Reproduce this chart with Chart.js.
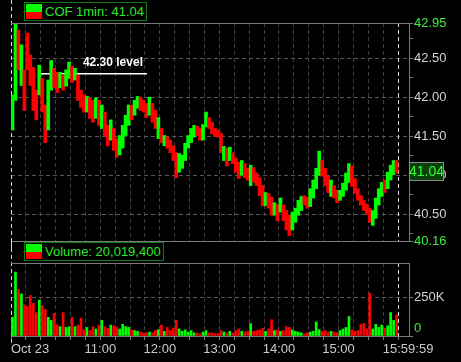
<!DOCTYPE html>
<html>
<head>
<meta charset="utf-8">
<title>COF 1min</title>
<script src="https://cdn.jsdelivr.net/npm/chart.js@4.4.0/dist/chart.umd.min.js"></script>
<style>
  body { margin: 0; background: #000; }
  #wrap { position: relative; width: 461px; height: 362px; overflow: hidden; background: #000; }
  canvas { position: absolute; left: 0; }
  #priceCanvas { top: 0; }
  #volCanvas { top: 241px; }
  .legend {
    position: absolute; left: 24px; height: 19px; box-sizing: border-box;
    border: 1px solid #127a12; color: #2ee82e; background: #000;
    font: 13px "Liberation Sans", Arial, sans-serif; line-height: 17px;
    padding-left: 20px; white-space: nowrap; z-index: 2;
  }
  .sw { position: absolute; left: 1px; top: 1px; width: 16px; }
  .sw .g { height: 8px; background: #00ff00; }
  .sw .r { height: 7px; background: #ff0000; }
</style>
</head>
<body>
<div id="wrap">
  <canvas id="priceCanvas" width="461" height="252"></canvas>
  <canvas id="volCanvas" width="461" height="121"></canvas>
  <div class="legend" style="top:2px;width:123px"><div class="sw"><div class="g"></div><div class="r"></div></div>COF 1min: 41.04</div>
  <div class="legend" style="top:242px;width:140px"><div class="sw"><div class="g"></div><div class="r"></div></div>Volume: 20,019,400</div>
</div>
<script>
'use strict';

//////// DATA ////////
// one bar = 3 minutes of the 9:30 - 16:00 session (minutes counted from 9:30)
const binMinutes = 3;
const lastPrice = 41.04;

const highs = [
  42.03, 42.95, 42.86, 42.67, 42.35, 42.82, 42.54, 42.38, 42.09, 42.41,
  42.24, 41.90, 42.22, 42.47, 42.37, 42.32, 42.32, 42.29, 42.35, 42.45,
  42.40, 42.37, 42.28, 42.09, 42.03, 42.01, 41.99, 41.96, 41.99, 41.96,
  41.90, 41.81, 41.64, 41.71, 41.60, 41.47, 41.51, 41.64, 41.77, 41.90,
  41.90, 41.96, 42.01, 42.00, 41.96, 41.92, 42.00, 41.92, 41.83, 41.74,
  41.60, 41.51, 41.49, 41.45, 41.38, 41.29, 41.28, 41.26, 41.41, 41.51,
  41.60, 41.64, 41.63, 41.60, 41.65, 41.81, 41.74, 41.68, 41.60, 41.58,
  41.54, 41.37, 41.35, 41.36, 41.29, 41.22, 41.17, 41.19, 41.15, 41.09,
  41.13, 41.10, 41.03, 40.97, 40.87, 40.78, 40.77, 40.72, 40.65, 40.63,
  40.71, 40.62, 40.55, 40.49, 40.53, 40.58, 40.68, 40.73, 40.74, 40.72,
  40.83, 40.94, 41.09, 41.31, 41.19, 41.09, 40.99, 40.94, 40.87, 40.81,
  40.81, 40.90, 41.03, 41.15, 41.12, 40.96, 40.83, 40.74, 40.68, 40.63,
  40.58, 40.55, 40.71, 40.83, 40.91, 40.94, 41.04, 41.13, 41.19, 41.19
];

const lows = [
  41.58, 41.96, 42.35, 42.15, 41.83, 42.35, 42.15, 41.83, 41.71, 42.03,
  41.81, 41.42, 41.58, 42.09, 42.12, 42.06, 42.12, 42.09, 42.14, 42.24,
  42.19, 42.22, 41.96, 41.87, 41.81, 41.81, 41.73, 41.68, 41.73, 41.64,
  41.60, 41.51, 41.38, 41.45, 41.32, 41.23, 41.26, 41.35, 41.51, 41.64,
  41.71, 41.77, 41.86, 41.83, 41.81, 41.74, 41.77, 41.68, 41.60, 41.47,
  41.42, 41.38, 41.35, 41.29, 41.19, 40.97, 41.04, 41.09, 41.19, 41.35,
  41.42, 41.49, 41.51, 41.45, 41.45, 41.62, 41.60, 41.53, 41.50, 41.49,
  41.29, 41.19, 41.12, 41.19, 41.15, 41.04, 40.96, 41.00, 40.97, 40.94,
  40.87, 40.91, 40.87, 40.74, 40.61, 40.61, 40.58, 40.49, 40.49, 40.42,
  40.53, 40.42, 40.30, 40.23, 40.30, 40.40, 40.49, 40.55, 40.62, 40.58,
  40.60, 40.71, 40.83, 41.00, 40.99, 40.87, 40.78, 40.73, 40.71, 40.65,
  40.68, 40.73, 40.81, 40.91, 40.86, 40.77, 40.68, 40.62, 40.55, 40.50,
  40.40, 40.36, 40.45, 40.62, 40.73, 40.78, 40.83, 40.94, 41.01, 41.03
];

// 1 = closed up (green), 0 = closed down (red)
const upBar = [
  1, 1, 0, 1, 0, 0, 0, 0, 0, 1,
  0, 0, 1, 1, 0, 0, 1, 0, 1, 1,
  0, 1, 0, 0, 0, 1, 0, 0, 1, 0,
  1, 0, 0, 1, 0, 0, 1, 1, 1, 1,
  0, 1, 1, 0, 0, 0, 1, 0, 0, 1,
  0, 1, 0, 0, 0, 0, 1, 1, 1, 1,
  1, 1, 0, 0, 1, 1, 0, 0, 0, 0,
  0, 1, 0, 1, 0, 0, 0, 1, 0, 0,
  1, 0, 0, 0, 0, 1, 0, 0, 1, 0,
  1, 0, 0, 0, 1, 1, 1, 1, 0, 0,
  1, 1, 1, 1, 0, 0, 0, 1, 0, 0,
  1, 1, 1, 1, 0, 0, 0, 0, 0, 0,
  0, 1, 1, 1, 1, 0, 1, 1, 1, 0
];

// thousands of shares
const volumeK = [
  120, 410, 300, 270, 200, 190, 260, 210, 150, 230,
  195, 170, 120, 100, 145, 70, 60, 150, 55, 60,
  120, 60, 70, 115, 40, 55, 35, 60, 45, 70,
  100, 60, 50, 70, 65, 55, 45, 75, 60, 55,
  40, 35, 30, 25, 20, 20, 25, 20, 35, 40,
  70, 30, 55, 35, 50, 100, 45, 30, 40, 25,
  35, 20, 20, 15, 25, 35, 20, 20, 15, 15,
  35, 25, 20, 30, 20, 35, 45, 30, 25, 30,
  80, 30, 35, 40, 50, 30, 45, 105, 35, 40,
  30, 35, 60, 55, 40, 30, 25, 20, 15, 20,
  25, 30, 90, 40, 30, 35, 25, 30, 25, 20,
  35, 45, 55, 125, 40, 30, 35, 75, 80, 45,
  275, 45, 75, 55, 70, 50, 65, 150, 100, 135
];

const priceTicks = [40.16, 40.25, 40.5, 40.75, 41, 41.25, 41.5, 41.75, 42, 42.25, 42.5, 42.75, 42.95];
const priceLabels = [40.16, 40.5, 41, 41.5, 42, 42.5, 42.95];
const volumeTicks = [0, 250000];
const gridMinutes = [0, 15, 30, 45, 60, 75, 90, 105, 120, 135, 150, 165, 180, 195,
  210, 225, 240, 255, 270, 285, 300, 315, 330, 345, 360, 375, 390];
const timeLabels = ['Oct 23', '11:00', '12:00', '13:00', '14:00', '15:00', '15:59:59'];
const timeLabelMinutes = [0, 90, 150, 210, 270, 330, 390];

const levelPrice = 42.30;
const levelMinutes = [29, 137];

//////// STYLE ////////
const GREEN = '#00ff00';
const RED = '#ff0000';
const AXIS = '#7a7a7a';
const FONT = '"Liberation Sans", Arial, sans-serif';

Chart.defaults.font.family = FONT;
Chart.defaults.font.size = 13;

function barColors(){
  return upBar.map(u => u ? GREEN : RED);
}

function binCenter(i){
  return i * binMinutes + binMinutes / 2;
}

function timeScale(height, ticks){
  return {
    type: 'linear',
    min: 0,
    max: 401,
    offset: false,
    afterBuildTicks: s => { s.ticks = gridMinutes.map(v => ({value: v})); },
    afterFit: s => { s.height = height; },
    ticks: {display: false},
    grid: {
      offset: false,
      color: c => (c.tick && (c.tick.value === 0 || c.tick.value === 390)) ? 'rgba(0,0,0,0)' : '#3e3e3e',
      drawTicks: ticks,
      tickLength: 4,
      tickColor: AXIS
    },
    border: {color: AXIS, dash: [4, 3]}
  };
}

// top frame line + white dashed session start/end markers
function framePlugin(leftTop, leftBottom){
  return {
    id: 'frame',
    beforeDatasetsDraw(chart){
      const {ctx, chartArea, scales} = chart;
      const xl = Math.round(scales.x.getPixelForValue(gridMinutes[0])) + 0.5;
      const xr = Math.round(scales.x.getPixelForValue(gridMinutes[gridMinutes.length - 1])) + 0.5;
      ctx.save();
      ctx.strokeStyle = '#d8d8d8';
      ctx.lineWidth = 1;
      ctx.setLineDash([4, 3]);
      ctx.beginPath();
      ctx.moveTo(xl, leftTop);
      ctx.lineTo(xl, leftBottom);
      ctx.moveTo(xr, chartArea.top);
      ctx.lineTo(xr, chartArea.bottom);
      ctx.stroke();
      ctx.restore();
    },
    afterDraw(chart){
      const {ctx, chartArea} = chart;
      ctx.save();
      ctx.strokeStyle = AXIS;
      ctx.lineWidth = 1;
      ctx.beginPath();
      ctx.moveTo(chartArea.left, Math.round(chartArea.top) + 0.5);
      ctx.lineTo(chartArea.right, Math.round(chartArea.top) + 0.5);
      ctx.stroke();
      ctx.restore();
    }
  };
}

//////// PRICE CHART ////////
const levelText = {
  id: 'levelText',
  afterDatasetsDraw(chart){
    const {ctx, scales} = chart;
    const x = scales.x.getPixelForValue(levelMinutes[1]) - 4;
    const y = scales.y.getPixelForValue(levelPrice) - 11;
    ctx.save();
    ctx.font = 'bold 12px ' + FONT;
    ctx.fillStyle = '#ffffff';
    ctx.textAlign = 'right';
    ctx.textBaseline = 'middle';
    ctx.fillText(levelPrice.toFixed(2) + ' level', x, y);
    ctx.restore();
  }
};

const priceTag = {
  id: 'priceTag',
  afterDraw(chart){
    const {ctx, scales, chartArea} = chart;
    const y = Math.round(scales.y.getPixelForValue(lastPrice));
    const x = chartArea.right;
    ctx.save();
    ctx.fillStyle = '#0a400a';
    ctx.fillRect(x, y - 10, 35, 19);
    ctx.strokeStyle = '#8a8a8a';
    ctx.lineWidth = 1;
    ctx.strokeRect(x + 0.5, y - 9.5, 34, 18);
    ctx.font = '14px ' + FONT;
    ctx.fillStyle = '#33ff33';
    ctx.textAlign = 'center';
    ctx.textBaseline = 'middle';
    ctx.fillText(lastPrice.toFixed(2), x + 17.5, y);
    ctx.restore();
  }
};

function renderPrice(){
  const candles = [];
  for (let i = 0; i < highs.length; i++) {
    candles.push({x: binCenter(i), y: [lows[i], highs[i]]});
  }
  const level = levelMinutes.map(m => ({x: m, y: levelPrice}));

  new Chart(document.getElementById('priceCanvas'), {
    type: 'bar',
    data: {
      datasets: [{
        type: 'bar',
        data: candles,
        backgroundColor: barColors(),
        borderWidth: 0,
        barThickness: 3
      },
      {
        type: 'line',
        data: level,
        borderColor: '#ffffff',
        borderWidth: 1.5,
        pointRadius: 0
      }]
    },
    options: {
      responsive: false,
      animation: false,
      devicePixelRatio: 1,
      layout: {padding: {top: 23, left: 11, right: 0, bottom: 11}},
      plugins: {legend: {display: false}, tooltip: {enabled: false}},
      scales: {
        x: timeScale(0, false),
        y: {
          position: 'right',
          min: priceTicks[0],
          max: priceTicks[priceTicks.length - 1],
          afterBuildTicks: s => { s.ticks = priceTicks.map(v => ({value: v})); },
          afterFit: s => { s.width = 52; },
          ticks: {
            autoSkip: false,
            padding: 1,
            callback: v => priceLabels.includes(v) ? v.toFixed(2) : '',
            color: c => (c.tick.value === 42.95 || c.tick.value === 40.16) ? '#3cf03c' : '#d4d4d4'
          },
          grid: {
            color: c => (c.tick && c.tick.value % 0.5 === 0) ? '#5a5a5a' : 'rgba(0,0,0,0)',
            tickLength: 4,
            tickColor: AXIS
          },
          border: {color: AXIS, dash: [4, 3]}
        }
      }
    },
    plugins: [framePlugin(0, 252), levelText, priceTag]
  });
}

//////// VOLUME CHART ////////
const timeText = {
  id: 'timeText',
  afterDraw(chart){
    const {ctx, scales} = chart;
    ctx.save();
    ctx.font = '13px ' + FONT;
    ctx.fillStyle = '#c8c8d0';
    ctx.textBaseline = 'middle';
    for (let i = 0; i < timeLabels.length; i++) {
      let x = scales.x.getPixelForValue(timeLabelMinutes[i]);
      ctx.textAlign = 'center';
      if (i === 0) {
        ctx.textAlign = 'left';
      } else if (i === timeLabels.length - 1) {
        x += 10;
      }
      ctx.fillText(timeLabels[i], x, 108);
    }
    ctx.restore();
  }
};

function renderVolume(){
  const vols = [];
  for (let i = 0; i < volumeK.length; i++) {
    vols.push({x: binCenter(i), y: volumeK[i] * 1000});
  }

  new Chart(document.getElementById('volCanvas'), {
    type: 'bar',
    data: {
      datasets: [{
        data: vols,
        backgroundColor: barColors(),
        borderWidth: 0,
        barThickness: 2
      }]
    },
    options: {
      responsive: false,
      animation: false,
      devicePixelRatio: 1,
      layout: {padding: {top: 22, left: 11, right: 0, bottom: 0}},
      plugins: {legend: {display: false}, tooltip: {enabled: false}},
      scales: {
        x: timeScale(26, true),
        y: {
          position: 'right',
          min: 0,
          max: 468000,
          afterBuildTicks: s => { s.ticks = volumeTicks.map(v => ({value: v})); },
          afterFit: s => { s.width = 52; },
          ticks: {
            autoSkip: false,
            padding: 1,
            callback: v => v === 0 ? ['0', ''] : (v / 1000) + 'K',
            color: c => c.tick.value === 0 ? '#3cf03c' : '#d4d4d4'
          },
          grid: {
            color: c => (c.tick && c.tick.value > 0) ? '#5a5a5a' : 'rgba(0,0,0,0)',
            tickLength: 4,
            tickColor: AXIS
          },
          border: {color: AXIS, dash: [4, 3]}
        }
      }
    },
    plugins: [framePlugin(0, 104), timeText]
  });
}

////// START ///////
renderPrice();
renderVolume();
</script>
</body>
</html>
